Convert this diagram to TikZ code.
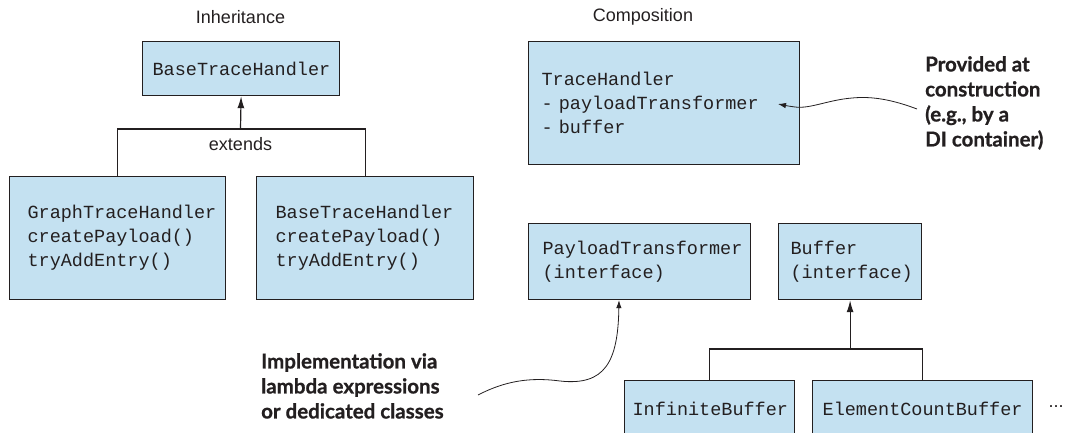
\documentclass[tikz,border=0pt]{standalone}
\usepackage{fontspec}
\setmainfont{Liberation Sans}
\setmonofont{Liberation Mono}
\newfontfamily\notefont[BoldFeatures={FakeBold=0.8}]{Lato}
\usetikzlibrary{arrows.meta,calc}

\definecolor{boxblue}{HTML}{C4E1F1}
\definecolor{ink}{HTML}{231F20}

\begin{document}
\begin{tikzpicture}[x=1pt,y=-1pt,
  classbox/.style={draw=ink, line width=1.2pt, fill=boxblue, anchor=north west,
    inner ysep=0pt, align=left, text=ink,
    font=\fontsize{18.5}{24}\selectfont\ttfamily},
  heading/.style={font=\fontsize{18}{22}\selectfont, text=ink},
  note/.style={font=\fontsize{20.5}{25}\selectfont\notefont\bfseries, align=left,
    anchor=north west, inner sep=0pt, text=ink},
  link/.style={draw=ink, line width=1.2pt},
  inherit/.style={link, -{Latex[length=12pt,width=7pt]}},
  pointer/.style={draw=ink, line width=0.8pt, -{Latex[length=8pt,width=5.5pt]}},
]
\useasboundingbox (0,0) rectangle (1066,433);
\clip (0,0) rectangle (1066,433);

% ---------- Inheritance ----------
\node[heading] (inhtitle) at (240.5,17) {Inheritance};
\node[classbox, align=center, inner xsep=10pt, text width=177pt, minimum height=54pt]
  (base) at (142,41) {BaseTraceHandler};
\node[classbox, inner xsep=18pt, text width=180pt, minimum height=123pt]
  (graph) at (9,176) {GraphTraceHandler\\createPayload()\\tryAddEntry()};
\node[classbox, inner xsep=19pt, text width=179pt, minimum height=123pt]
  (base2) at (256,176) {BaseTraceHandler\\createPayload()\\tryAddEntry()};

\coordinate (j1) at (240.5,129);
\draw[link] (graph.north) |- (j1) -| (base2.north);
\draw[inherit] (j1) -- (base.south);
\node[heading] (extends) at (240.5,144) {extends};

% ---------- Composition ----------
\node[heading] (comptitle) at (643,17) {Composition};
\node[classbox, inner xsep=13pt, text width=245pt, minimum height=123pt]
  (trace) at (528,41) {TraceHandler\\- payloadTransformer\\- buffer};
\node[classbox, inner xsep=14pt, text width=194pt, minimum height=76pt]
  (ptrans) at (528,223) {PayloadTransformer\\(interface)};
\node[classbox, inner xsep=12pt, text width=119pt, minimum height=76pt]
  (buffer) at (778,223) {Buffer\\(interface)};
\node[classbox, align=center, inner xsep=8pt, text width=154pt, minimum height=56pt]
  (infbuf) at (624,380) {InfiniteBuffer};
\node[classbox, align=center, inner xsep=10pt, text width=200pt, minimum height=56pt]
  (ecbuf) at (812,380) {ElementCountBuffer};
\node[heading] (more) at (1056,407) {...};

\coordinate (j2) at (buffer.south |- 0,349);
\draw[link] (infbuf.north) |- (j2) -| (ecbuf.north);
\draw[inherit] (j2) -- (buffer.south);

% ---------- Notes ----------
\node[note] (provided) at (925,56) {Provided at\\construction\\(e.g., by a\\DI container)};
\node[note] (impl) at (261,353) {Implementation via\\lambda expressions\\or dedicated classes};

\coordinate (ptarget) at ($(trace.north west)+(250,63)$);
\coordinate (pstart) at (917,109);
\draw[pointer] (pstart) .. controls (893,100) and (873,96) .. (852,98)
  .. controls (828,100) and (810,109) .. (795,107)
  .. controls (788,106) .. (ptarget);

\coordinate (itarget) at ($(ptrans.south west)+(91,0)$);
\coordinate (istart) at (478,395);
\draw[pointer] (istart) .. controls (505,381) and (530,377) .. (560,381)
  .. controls (605,386) and (618,362) .. (itarget);
\end{tikzpicture}
\end{document}
